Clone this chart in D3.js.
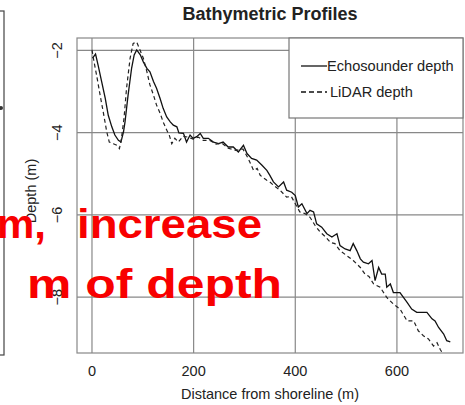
<!DOCTYPE html>
<html>
<head>
<meta charset="utf-8">
<script src="https://cdn.jsdelivr.net/npm/d3@7"></script>
<style>
  body { margin: 0; background: #fff; }
  svg { display: block; }
  text { font-family: "Liberation Sans", Arial, sans-serif; }
</style>
</head>
<body>
<div id="container"></div>
<script>
// data (distance in m, depth in m)
const echoDist = [2, 8, 13, 20, 27, 33, 40, 46, 53, 58, 63, 66, 72, 79, 84, 89, 96, 102, 109, 115, 122, 128, 135, 141, 148, 155, 161, 168, 172,
  181, 187, 194, 200, 207, 214, 220, 230, 240, 250, 259, 269, 279, 289, 299, 306, 315, 325, 335, 345, 351,
  358, 368, 378, 384, 394, 401, 407, 414, 424, 430, 437, 443, 453, 463, 473, 483, 489, 499, 509, 515, 522,
  529, 535, 545, 552, 558, 565, 571, 578, 581, 588, 594, 607, 621, 630, 640, 660, 670, 676, 683, 693, 699, 706];
const echoDepth = [-2.20, -2.10, -2.37, -2.77, -3.17, -3.59, -3.87, -4.07, -4.20, -4.24, -3.99, -3.75, -3.10, -2.44, -2.12, -2.00, -2.12, -2.29, -2.45, -2.53, -2.77, -2.93, -3.18, -3.42, -3.63, -3.75, -3.83, -3.87, -4.02,
  -4.03, -4.24, -4.07, -4.15, -4.11, -4.03, -4.15, -4.15, -4.24, -4.28, -4.24, -4.36, -4.36, -4.48, -4.32, -4.52, -4.64, -4.68, -4.80, -4.93, -5.05,
  -5.21, -5.33, -5.21, -5.41, -5.46, -5.54, -5.82, -5.74, -5.98, -5.90, -5.94, -6.23, -6.31, -6.47, -6.55, -6.47, -6.76, -6.84, -6.88, -6.71, -6.88,
  -7.08, -7.16, -7.20, -7.12, -7.61, -7.29, -7.45, -7.45, -7.77, -7.69, -7.90, -7.90, -8.14, -8.30, -8.38, -8.38, -8.54, -8.59, -8.75, -8.91, -9.07, -9.10];

const lidarDist = [1, 5, 10, 17, 23, 30, 35, 43, 50, 55, 59, 64, 69, 76, 82, 89, 94, 102, 109, 115, 122, 128, 135, 141, 148, 153, 158, 164, 171,
  180, 190, 200, 210, 220, 233, 245, 257, 269, 284, 298, 308, 319, 326, 332, 345, 351, 358, 371, 384, 393, 401, 410, 420, 430, 440, 450, 460, 470, 479,
  489, 502, 515, 529, 538, 546, 555, 568, 581, 594, 607, 621, 634, 643, 653, 663, 673, 680, 686, 689];
const lidarDepth = [-2.00, -2.29, -2.61, -3.10, -3.50, -3.99, -4.24, -4.28, -4.32, -4.40, -4.15, -3.66, -2.93, -2.20, -1.84, -1.81, -1.96, -2.20, -2.53, -2.85, -3.10, -3.34, -3.54, -3.75, -3.95, -4.07, -4.28, -4.15, -4.24,
  -4.10, -4.12, -4.17, -4.12, -4.20, -4.20, -4.29, -4.27, -4.39, -4.44, -4.41, -4.63, -4.93, -4.88, -5.05, -5.17, -5.21, -5.29, -5.41, -5.58, -5.56, -5.74, -5.94, -5.98, -6.07, -6.27, -6.43, -6.54, -6.68, -6.71,
  -6.88, -7.00, -7.12, -7.29, -7.45, -7.51, -7.69, -7.77, -8.02, -8.18, -8.30, -8.59, -8.59, -8.83, -8.95, -9.03, -9.20, -9.12, -9.28, -9.34];

const xTicks = [0, 200, 400, 600];
const yTicks = [-2, -4, -6, -8];
const seriesNames = ["Echosounder depth", "LiDAR depth"];

const width = 465, height = 405;
const margin = { top: 38, right: 2, bottom: 52, left: 77 };
const innerW = width - margin.left - margin.right;
const innerH = height - margin.top - margin.bottom;

const svg = d3.select("#container").append("svg")
  .attr("width", width).attr("height", height);

// scales
const x = d3.scaleLinear().domain([-28.5, 731]).range([0, innerW]);
const y = d3.scaleLinear().domain([-9.37, -1.71]).range([innerH, 0]);

// bit of the neighbouring panel on the far left
svg.append("rect").attr("x", -20).attr("y", 11).attr("width", 24).attr("height", 344)
  .attr("fill", "none").attr("stroke", "#444").attr("stroke-width", 1.2);
svg.append("circle").attr("cx", 1).attr("cy", 108).attr("r", 2).attr("fill", "#333");

const g = svg.append("g").attr("transform", `translate(${margin.left},${margin.top})`);

// grid
g.append("g").attr("transform", `translate(0,${innerH})`)
  .call(d3.axisBottom(x).tickValues(xTicks).tickSize(-innerH).tickFormat(""))
  .call(a => a.select(".domain").remove())
  .call(a => a.selectAll("line").attr("stroke", "#888").attr("stroke-width", 1.2));
g.append("g")
  .call(d3.axisLeft(y).tickValues(yTicks).tickSize(-innerW).tickFormat(""))
  .call(a => a.select(".domain").remove())
  .call(a => a.selectAll("line").attr("stroke", "#888").attr("stroke-width", 1.2));

// tick labels
g.append("g").attr("transform", `translate(0,${innerH})`)
  .call(d3.axisBottom(x).tickValues(xTicks).tickSize(0).tickPadding(0).tickFormat(d3.format("d")))
  .call(a => a.select(".domain").remove())
  .call(a => a.selectAll("text").attr("y", 23).attr("dy", 0)
    .style("font-size", "14.5px").attr("fill", "#222"));
g.append("g")
  .call(d3.axisLeft(y).tickValues(yTicks).tickSize(0).tickFormat(d3.format("d")))
  .call(a => a.select(".domain").remove())
  .call(a => a.selectAll("text")
    .attr("transform", "rotate(-90)").attr("x", 0).attr("y", -15).attr("dy", 0)
    .attr("text-anchor", "middle").style("font-size", "14.5px").attr("fill", "#222"));

// lines
const line = d3.line().x(d => x(d[0])).y(d => y(d[1]));
g.append("path").datum(d3.zip(echoDist, echoDepth))
  .attr("d", line).attr("fill", "none").attr("stroke", "#111").attr("stroke-width", 1.3);
g.append("path").datum(d3.zip(lidarDist, lidarDepth))
  .attr("d", line).attr("fill", "none").attr("stroke", "#222").attr("stroke-width", 1.2)
  .attr("stroke-dasharray", "4,3");

// plot box
g.append("rect").attr("width", innerW).attr("height", innerH)
  .attr("fill", "none").attr("stroke", "#888").attr("stroke-width", 1.2);

// legend
const lg = svg.append("g").attr("transform", "translate(289,38)");
lg.append("rect").attr("width", 174).attr("height", 80)
  .attr("fill", "#fff").attr("stroke", "#777").attr("stroke-width", 1.2);
lg.selectAll("line.key").data(seriesNames).join("line").attr("class", "key")
  .attr("x1", 12).attr("x2", 38)
  .attr("y1", (d, i) => 28 + i * 26).attr("y2", (d, i) => 28 + i * 26)
  .attr("stroke", "#111").attr("stroke-width", 1.3)
  .attr("stroke-dasharray", (d, i) => i ? "5,3" : null);
lg.selectAll("text").data(seriesNames).join("text")
  .attr("x", (d, i) => i ? 41 : 38).attr("y", (d, i) => 33 + i * 26)
  .style("font-size", "14.6px").attr("fill", "#222").text(d => d);

// titles
svg.append("text").attr("x", 270).attr("y", 20).attr("text-anchor", "middle")
  .style("font-size", "18px").style("font-weight", "bold").attr("fill", "#222")
  .text("Bathymetric Profiles");
svg.append("text").attr("x", 270).attr("y", 399).attr("text-anchor", "middle")
  .style("font-size", "14.5px").attr("fill", "#222").text("Distance from shoreline (m)");
svg.append("text").attr("transform", "translate(36,191) rotate(-90)").attr("text-anchor", "middle")
  .style("font-size", "14.5px").attr("fill", "#222").text("Depth (m)");

// red annotation pasted over the chart
const red = svg.append("g").attr("fill", "#f80000")
  .style("font-family", "'Comic Sans MS', 'DejaVu Sans', sans-serif").style("font-weight", "bold")
  .style("font-size", "40px");
red.append("text").attr("x", -3).attr("y", 238).attr("textLength", 49).attr("lengthAdjust", "spacingAndGlyphs").text("m,");
red.append("text").attr("x", 77).attr("y", 238).attr("textLength", 185).attr("lengthAdjust", "spacingAndGlyphs").text("increase");
red.append("text").attr("x", 27).attr("y", 298).attr("textLength", 255).attr("lengthAdjust", "spacingAndGlyphs").text("m of depth");
</script>
</body>
</html>
